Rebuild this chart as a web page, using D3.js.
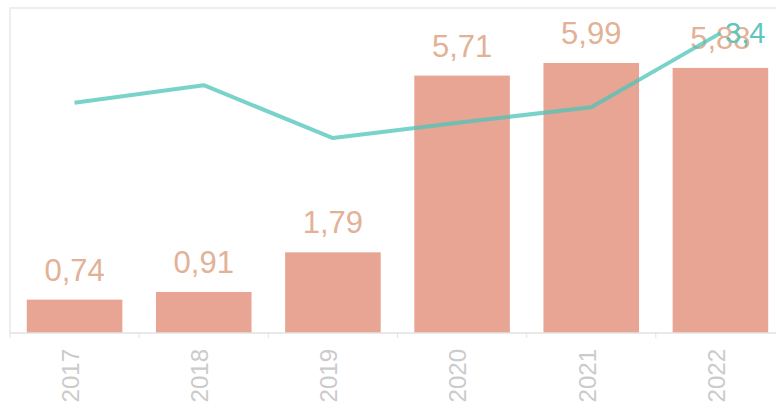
<!DOCTYPE html>
<html>
<head>
<meta charset="utf-8">
<script src="https://cdn.jsdelivr.net/npm/d3@7"></script>
<style>
  body { margin: 0; background: #fff; }
  svg { display: block; font-family: "Liberation Sans", Arial, sans-serif; }
</style>
</head>
<body>
<svg id="chart" width="776" height="410"></svg>
<script>
// chart data
const years = ["2017", "2018", "2019", "2020", "2021", "2022"];
const barValues = [0.74, 0.91, 1.79, 5.71, 5.99, 5.88];
const barLabels = ["0,74", "0,91", "1,79", "5,71", "5,99", "5,88"];
const lineValues = [2.61, 2.81, 2.21, 2.39, 2.56, 3.4];
const lineEndLabel = "3,4";

let chart = d3.select("#chart");
let base = 333;

// faint frame of the plot area
chart.append("path")
  .attr("d", "M10,333 V8 H776")
  .attr("fill", "none")
  .attr("stroke", "#eeeeee")
  .attr("stroke-width", 2);

// x band scale
let x = d3.scaleBand()
  .domain(years)
  .range([10, 785])
  .paddingInner(0.26)
  .paddingOuter(0.13);

// bar value scale
let y = d3.scaleLinear()
  .domain([0, 7])
  .range([base, base - 7 * 45.08]);

// line value scale (hidden secondary axis)
let y2 = d3.scaleLinear()
  .domain([0, 4])
  .range([base, base - 4 * 88.2]);

// bars
chart.selectAll("rect.bar")
  .data(barValues).enter()
    .append("rect")
      .attr("class", "bar")
      .attr("x", function(d, i){ return x(years[i]); })
      .attr("y", function(d){ return y(d); })
      .attr("width", x.bandwidth())
      .attr("height", function(d){ return base - y(d); })
      .attr("fill", "#e8a593");

// bar value labels
chart.selectAll("text.val")
  .data(barValues).enter()
    .append("text")
      .attr("class", "val")
      .attr("x", function(d, i){ return x(years[i]) + x.bandwidth() / 2; })
      .attr("y", function(d){ return y(d) - 19; })
      .attr("text-anchor", "middle")
      .attr("font-size", 31)
      .attr("fill", "#e3b196")
      .text(function(d, i){ return barLabels[i]; });

// x axis
let axis = chart.append("g")
  .attr("transform", "translate(0," + base + ")");
axis.append("line")
  .attr("x1", 10).attr("x2", 776)
  .attr("stroke", "#e2e2e2").attr("stroke-width", 1.5);
axis.selectAll("line.tick")
  .data(d3.range(years.length + 1)).enter()
    .append("line")
      .attr("class", "tick")
      .attr("x1", function(i){ return 10 + i * x.step(); })
      .attr("x2", function(i){ return 10 + i * x.step(); })
      .attr("y1", 0).attr("y2", 5)
      .attr("stroke", "#e2e2e2");
axis.selectAll("text")
  .data(years).enter()
    .append("text")
      .attr("transform", function(d){
        return "translate(" + (x(d) + x.bandwidth() / 2 - 4) + ",16) rotate(-90)";
      })
      .attr("text-anchor", "end")
      .attr("dy", "0.35em")
      .attr("font-size", 24)
      .attr("fill", "#cbcbcb")
      .text(function(d){ return d; });

// line series
let line = d3.line()
  .x(function(d, i){ return x(years[i]) + x.bandwidth() / 2; })
  .y(function(d){ return y2(d); });

chart.append("path")
  .datum(lineValues)
  .attr("d", line)
  .attr("fill", "none")
  .attr("stroke", "#4cc4ba")
  .attr("stroke-opacity", 0.75)
  .attr("stroke-width", 4)
  .attr("stroke-linejoin", "round");

// end label of the line
let last = lineValues.length - 1;
chart.append("text")
  .attr("x", x(years[last]) + x.bandwidth() / 2 + 45)
  .attr("y", y2(lineValues[last]) + 10)
  .attr("text-anchor", "end")
  .attr("font-size", 29)
  .attr("fill", "#5ec6bd")
  .text(lineEndLabel);
</script>
</body>
</html>
